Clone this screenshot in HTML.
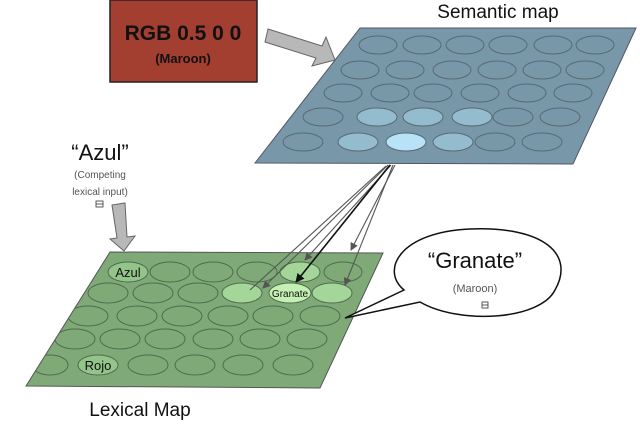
<!DOCTYPE html>
<html><head><meta charset="utf-8"><style>
html,body{margin:0;padding:0;background:#fff;}
svg{display:block;}
text{font-family:"Liberation Sans",sans-serif;}
</style></head><body>
<svg width="640" height="425" viewBox="0 0 640 425" xmlns="http://www.w3.org/2000/svg">
<defs>
<marker id="ah" markerWidth="8" markerHeight="8" refX="7" refY="4" orient="auto" markerUnits="userSpaceOnUse"><path d="M0,0 L8,4 L0,8 z" fill="#555"/></marker>
<marker id="ahb" markerWidth="9" markerHeight="9" refX="8" refY="4.5" orient="auto" markerUnits="userSpaceOnUse"><path d="M0,0 L9,4.5 L0,9 z" fill="#111"/></marker>
<clipPath id="gc"><polygon points="110,252 383,253 320,388 26,386"/></clipPath>
<clipPath id="bc"><polygon points="360,28 636,28 573,164 255,163"/></clipPath>
</defs>
<rect x="110" y="0" width="147" height="82" fill="#a23f31" stroke="#222" stroke-width="1.5"/>
<text x="183" y="40" font-size="21" font-weight="bold" text-anchor="middle" fill="#111">RGB 0.5 0 0</text>
<text x="183" y="63" font-size="13" font-weight="bold" text-anchor="middle" fill="#111">(Maroon)</text>
<polygon points="268,29 322,46 326,37 335,60 312,66 316,58 265,42" fill="#b8b8b8" stroke="#666" stroke-width="1"/>
<text x="498" y="18" font-size="19" text-anchor="middle" fill="#111">Semantic map</text>
<polygon points="360,28 636,28 573,164 255,163" fill="#7898aa" stroke="#556" stroke-width="1"/>
<g fill="none" stroke="#5a6a72" stroke-width="1" clip-path="url(#bc)">
<ellipse cx="378" cy="45" rx="19" ry="9"/><ellipse cx="422" cy="45" rx="19" ry="9"/><ellipse cx="465" cy="45" rx="19" ry="9"/><ellipse cx="508" cy="45" rx="19" ry="9"/><ellipse cx="553" cy="45" rx="19" ry="9"/><ellipse cx="595" cy="45" rx="19" ry="9"/>
<ellipse cx="360" cy="70" rx="19" ry="9"/><ellipse cx="405" cy="70" rx="19" ry="9"/><ellipse cx="452" cy="70" rx="19" ry="9"/><ellipse cx="497" cy="70" rx="19" ry="9"/><ellipse cx="542" cy="70" rx="19" ry="9"/><ellipse cx="585" cy="70" rx="19" ry="9"/>
<ellipse cx="343" cy="93" rx="19" ry="9"/><ellipse cx="390" cy="93" rx="19" ry="9"/><ellipse cx="433" cy="93" rx="19" ry="9"/><ellipse cx="480" cy="93" rx="19" ry="9"/><ellipse cx="527" cy="93" rx="19" ry="9"/><ellipse cx="573" cy="93" rx="19" ry="9"/>
<ellipse cx="323" cy="117" rx="20" ry="9"/><ellipse cx="377" cy="117" rx="20" ry="9" fill="#94bccf"/><ellipse cx="423" cy="117" rx="20" ry="9" fill="#94bccf"/><ellipse cx="472" cy="117" rx="20" ry="9" fill="#94bccf"/><ellipse cx="513" cy="117" rx="20" ry="9"/><ellipse cx="560" cy="117" rx="20" ry="9"/>
<ellipse cx="303" cy="142" rx="20" ry="9"/><ellipse cx="358" cy="142" rx="20" ry="9" fill="#94bccf"/><ellipse cx="406" cy="142" rx="20" ry="9" fill="#b8e2f7"/><ellipse cx="453" cy="142" rx="20" ry="9" fill="#94bccf"/><ellipse cx="495" cy="142" rx="20" ry="9"/><ellipse cx="542" cy="142" rx="20" ry="9"/>
</g>
<text x="100" y="160" font-size="22" text-anchor="middle" fill="#111">“Azul”</text>
<text x="100" y="178" font-size="10" text-anchor="middle" fill="#555">(Competing</text>
<text x="100" y="195" font-size="10" text-anchor="middle" fill="#555">lexical input)</text>
<rect x="96" y="201" width="7" height="6" fill="none" stroke="#333" stroke-width="0.8"/><line x1="96" y1="204" x2="103" y2="204" stroke="#333" stroke-width="0.8"/>
<polygon points="112,205 125,203 127,237 135,236 124,251 110,239 117,238" fill="#b8b8b8" stroke="#666" stroke-width="1"/>
<polygon points="110,252 383,253 320,388 26,386" fill="#7faa78" stroke="#555" stroke-width="1"/>
<g fill="none" stroke="#4f6b4c" stroke-width="1" clip-path="url(#gc)">
<ellipse cx="128" cy="272" rx="20" ry="10" fill="#93c48a"/><ellipse cx="170" cy="272" rx="20" ry="10"/><ellipse cx="213" cy="272" rx="20" ry="10"/><ellipse cx="257" cy="272" rx="20" ry="10"/><ellipse cx="300" cy="272" rx="20" ry="10" fill="#a4d69a"/><ellipse cx="343" cy="272" rx="19" ry="10"/>
<ellipse cx="108" cy="293" rx="20" ry="10"/><ellipse cx="153" cy="293" rx="20" ry="10"/><ellipse cx="198" cy="293" rx="20" ry="10"/><ellipse cx="242" cy="293" rx="20" ry="10" fill="#a4d69a"/><ellipse cx="290" cy="293" rx="21" ry="10" fill="#c4f0b4"/><ellipse cx="332" cy="293" rx="20" ry="10" fill="#a4d69a"/>
<ellipse cx="88" cy="316" rx="20" ry="10"/><ellipse cx="137" cy="316" rx="20" ry="10"/><ellipse cx="182" cy="316" rx="20" ry="10"/><ellipse cx="228" cy="316" rx="20" ry="10"/><ellipse cx="273" cy="316" rx="20" ry="10"/><ellipse cx="320" cy="316" rx="20" ry="10"/>
<ellipse cx="75" cy="339" rx="20" ry="10"/><ellipse cx="120" cy="339" rx="20" ry="10"/><ellipse cx="165" cy="339" rx="20" ry="10"/><ellipse cx="213" cy="339" rx="20" ry="10"/><ellipse cx="260" cy="339" rx="20" ry="10"/><ellipse cx="307" cy="339" rx="20" ry="10"/>
<ellipse cx="50" cy="365" rx="18" ry="10"/><ellipse cx="98" cy="365" rx="20" ry="10" fill="#93c48a"/><ellipse cx="148" cy="365" rx="20" ry="10"/><ellipse cx="195" cy="365" rx="20" ry="10"/><ellipse cx="243" cy="365" rx="20" ry="10"/><ellipse cx="293" cy="365" rx="20" ry="10"/>
</g>
<text x="128" y="277" font-size="13" text-anchor="middle" fill="#111">Azul</text>
<text x="98" y="370" font-size="13" text-anchor="middle" fill="#111">Rojo</text>
<text x="290" y="297" font-size="10" text-anchor="middle" fill="#111">Granate</text>
<text x="140" y="416" font-size="19" text-anchor="middle" fill="#111">Lexical Map</text>
<g stroke="#555" stroke-width="1.1" fill="none">
<line x1="388" y1="165" x2="263" y2="288" marker-end="url(#ah)"/>
<line x1="391" y1="165" x2="305" y2="260" marker-end="url(#ah)"/>
<line x1="393" y1="165" x2="345" y2="285" marker-end="url(#ah)"/>
<line x1="395" y1="165" x2="351" y2="250" marker-end="url(#ah)"/>
<line x1="386" y1="166" x2="250" y2="290"/>
</g>
<line x1="390" y1="165" x2="296" y2="282" stroke="#111" stroke-width="1.6" marker-end="url(#ahb)"/>
<path d="M404,290 C380,270 400,232 470,229 C545,226 575,255 555,290 C540,320 460,325 420,302 L345,318 Z" fill="#fff" stroke="#111" stroke-width="1.5"/>
<text x="475" y="268" font-size="22" text-anchor="middle" fill="#111">“Granate”</text>
<text x="475" y="292" font-size="11" text-anchor="middle" fill="#555">(Maroon)</text>
<rect x="482" y="302" width="6" height="6" fill="none" stroke="#333" stroke-width="0.8"/><line x1="482" y1="305" x2="488" y2="305" stroke="#333" stroke-width="0.8"/>
</svg>
</body></html>
